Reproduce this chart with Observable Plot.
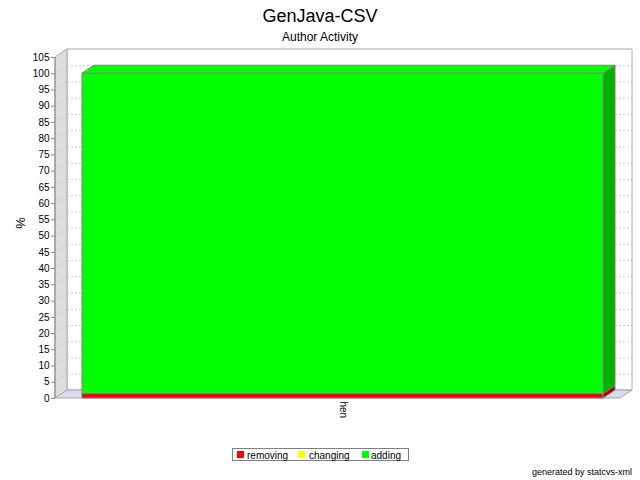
<!DOCTYPE html>
<html>
<head>
<meta charset="utf-8">
<script src="https://cdn.jsdelivr.net/npm/d3@7"></script>
<script src="https://cdn.jsdelivr.net/npm/@observablehq/plot@0.6"></script>
<style>
  body { margin: 0; background: #fff; font-family: "Liberation Sans", Arial, sans-serif; }
  #wrap { position: relative; width: 640px; height: 480px; overflow: hidden; background: #fff; }
  #chart { position: absolute; left: 0; top: 0; }
  .abs { position: absolute; white-space: nowrap; color: #000; }
  #title { left: 0; width: 640px; text-align: center; top: 7px; font-size: 18px; line-height: 18px; }
  #subtitle { left: 0; width: 640px; text-align: center; top: 31px; font-size: 12px; line-height: 12px; }
  #ylabel { left: 20px; top: 223px; font-size: 13px; line-height: 13px; transform: translate(-50%, -50%) rotate(-90deg); }
  #legend { left: 232px; top: 448px; width: 177px; height: 13px; border: 1px solid #808080; box-sizing: border-box; }
  .sw { position: absolute; width: 7px; height: 7px; top: 2px; }
  .lt { position: absolute; top: 1.5px; font-size: 10px; line-height: 10px; }
  #credit { right: 8px; top: 467.5px; font-size: 9px; line-height: 9px; }
  #chart svg g[aria-label="y-axis tick"] path,
  #chart svg g[aria-label="y-axis"] .tick line { stroke: #888; }
</style>
</head>
<body>
<div id="wrap">
  <div id="chart"></div>
  <div class="abs" id="title"></div>
  <div class="abs" id="subtitle"></div>
  <div class="abs" id="ylabel"></div>
  <div class="abs" id="legend"></div>
  <div class="abs" id="credit"></div>
</div>
<script>
// ---- data ----
const chartTitle = "GenJava-CSV";
const chartSubtitle = "Author Activity";
const yLabel = "%";
const creditText = "generated by statcvs-xml";
const categories = ["hen"];
const seriesNames = ["removing", "changing", "adding"];
const seriesColors = ["#FF0000", "#FFFF00", "#00FF00"];
const sideColors = ["#B20000", "#B2B200", "#00B200"];
const removing = [1.4];
const changing = [0];
const adding = [98.6];
const yTicks = [0, 5, 10, 15, 20, 25, 30, 35, 40, 45, 50, 55, 60, 65, 70, 75, 80, 85, 90, 95, 100, 105];

// ---- build stacked rows ----
const seriesValues = [removing, changing, adding];
const rows = [];
categories.forEach((cat, i) => {
  let acc = 0;
  seriesNames.forEach((s, j) => {
    const v = seriesValues[j][i];
    rows.push({category: cat, series: s, value: v, y1: acc, y2: acc + v, side: sideColors[j], top: seriesColors[j]});
    acc += v;
  });
});
const drawn = rows.filter(r => r.value > 0);

const DX = 12, DY = -8; // 3D depth offset (pixels)
const NS = "http://www.w3.org/2000/svg";
function el(tag, attrs) {
  const e = document.createElementNS(NS, tag);
  for (const k in attrs) e.setAttribute(k, attrs[k]);
  return e;
}
function poly(g, pts, fill, stroke) {
  g.appendChild(el("polygon", {points: pts.map(p => p.join(",")).join(" "), fill, stroke: stroke || "none", "stroke-width": 1}));
}

function walls(index, scales, values, dim) {
  const {width, height, marginLeft, marginRight, marginTop, marginBottom} = dim;
  const x0 = marginLeft, x1 = width - marginRight, y0 = marginTop, y1 = height - marginBottom;
  const g = el("g", {});
  poly(g, [[x0 + DX, y0 + DY], [x1 + DX, y0 + DY], [x1 + DX, y1 + DY], [x0 + DX, y1 + DY]], "#FFFFFF", "#A8A8A8");
  poly(g, [[x0, y0], [x0 + DX, y0 + DY], [x0 + DX, y1 + DY], [x0, y1]], "#DDDDDD", "#A8A8A8");
  poly(g, [[x0, y1], [x0 + DX, y1 + DY], [x1 + DX, y1 + DY], [x1, y1]], "#D8D8F0", "#A8A8A8");
  for (const t of yTicks) {
    if (t === 0) continue;
    const y = scales.y(t);
    g.appendChild(el("line", {x1: x0, y1: y, x2: x0 + DX, y2: y + DY, stroke: "#C8C8C8", "stroke-dasharray": "2,2"}));
  }
  return g;
}

function barSides(index, scales, values, dim) {
  const g = el("g", {});
  const bw = scales.x.bandwidth();
  for (const r of drawn) {
    const xa = scales.x(r.category), xb = xa + bw;
    const ya = scales.y(r.y1), yb = scales.y(r.y2);
    poly(g, [[xb, yb], [xb + DX, yb + DY], [xb + DX, ya + DY], [xb, ya]], r.side, "#808080");
    poly(g, [[xa, yb], [xb, yb], [xb + DX, yb + DY], [xa + DX, yb + DY]], r.top, "#808080");
  }
  return g;
}

function axisLine(index, scales, values, dim) {
  const x = dim.marginLeft;
  return el("line", {x1: x, x2: x, y1: scales.y(0), y2: scales.y(105), stroke: "#888888"});
}

const chart = Plot.plot({
  width: 640,
  height: 480,
  marginLeft: 55,
  marginRight: 20,
  marginTop: 57,
  marginBottom: 82,
  style: {fontFamily: "'Liberation Sans', Arial, sans-serif", fontSize: "10px", color: "#000", background: "transparent", overflow: "visible"},
  x: {domain: categories, paddingInner: 0, paddingOuter: 0.0422, align: 0.6136, tickSize: 0, tickRotate: 90, tickPadding: 3, label: null},
  y: {domain: [0, 105], ticks: yTicks, tickSize: 4, tickPadding: 2, label: null},
  color: {domain: seriesNames, range: seriesColors},
  marks: [
    walls,
    Plot.ruleY(yTicks.filter(t => t > 0), {dx: DX, dy: DY, stroke: "#C8C8C8", strokeDasharray: "2,2"}),
    barSides,
    Plot.barY(drawn, {x: "category", y1: "y1", y2: "y2", fill: "series", stroke: "#808080", strokeWidth: 1}),
    axisLine
  ]
});
document.getElementById("chart").appendChild(chart);

document.getElementById("title").textContent = chartTitle;
document.getElementById("subtitle").textContent = chartSubtitle;
document.getElementById("ylabel").textContent = yLabel;
document.getElementById("credit").textContent = creditText;

const legend = document.getElementById("legend");
const swatchOffsets = [4, 65, 129];
const textOffsets = [14, 76, 138];
seriesNames.forEach((s, j) => {
  const sw = document.createElement("div");
  sw.className = "sw";
  sw.style.left = swatchOffsets[j] + "px";
  sw.style.background = seriesColors[j];
  legend.appendChild(sw);
  const t = document.createElement("div");
  t.className = "lt";
  t.style.left = textOffsets[j] + "px";
  t.textContent = s;
  legend.appendChild(t);
});
</script>
</body>
</html>
